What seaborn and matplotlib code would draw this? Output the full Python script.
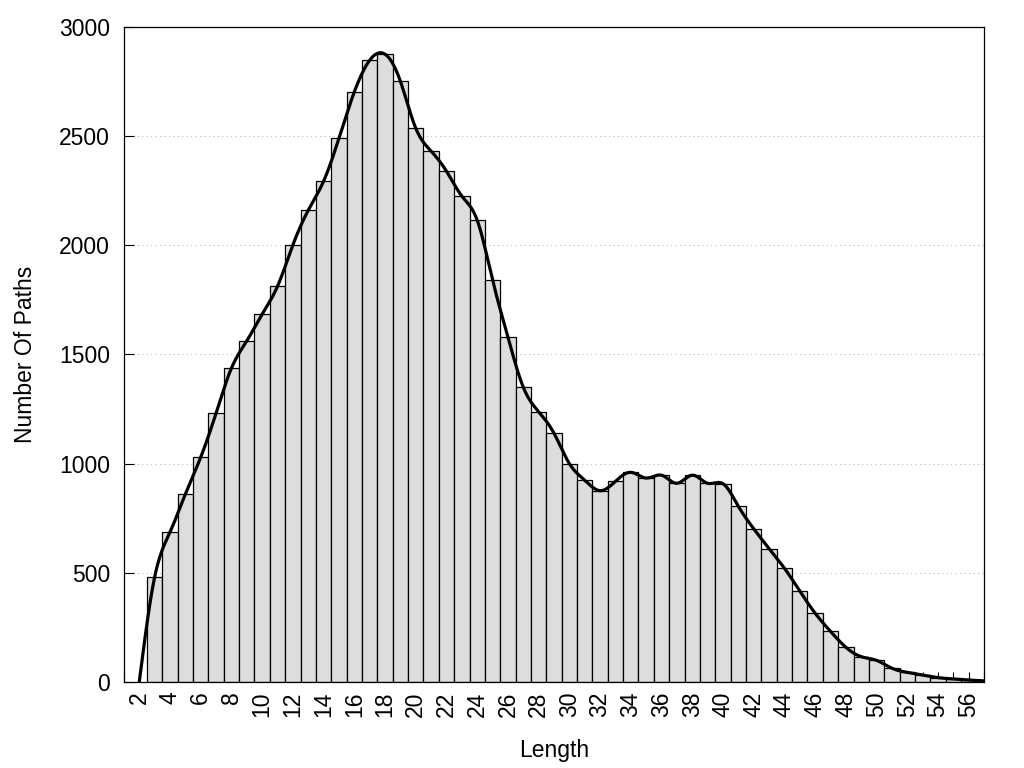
import matplotlib
matplotlib.use('Agg')
import matplotlib.pyplot as plt
import numpy as np
import seaborn as sns
from matplotlib.ticker import MultipleLocator

# Path length histogram values
lengths = list(range(3, 58))
paths = [480, 686, 860, 1029, 1231, 1437, 1562, 1684, 1812, 2001,
         2160, 2293, 2490, 2702, 2847, 2875, 2751, 2536, 2431, 2339,
         2225, 2115, 1841, 1580, 1350, 1238, 1139, 1000, 924, 876,
         919, 960, 934, 947, 910, 947, 910, 908, 805, 702,
         611, 521, 417, 315, 232, 159, 116, 99, 63, 44,
         32, 20, 14, 9, 5]

# curve is anchored at zero at length 2
curve_start_x = 2
curve_start_y = 0


def natural_spline(x, y, xs):
    """Natural cubic spline through (x, y), evaluated at xs."""
    x = np.asarray(x, dtype=float)
    y = np.asarray(y, dtype=float)
    n = len(x)
    h = np.diff(x)
    A = np.zeros((n, n))
    rhs = np.zeros(n)
    A[0, 0] = 1.0
    A[-1, -1] = 1.0
    for i in range(1, n - 1):
        A[i, i - 1] = h[i - 1]
        A[i, i] = 2 * (h[i - 1] + h[i])
        A[i, i + 1] = h[i]
        rhs[i] = 3 * ((y[i + 1] - y[i]) / h[i] - (y[i] - y[i - 1]) / h[i - 1])
    c = np.linalg.solve(A, rhs)
    b = (y[1:] - y[:-1]) / h - h * (2 * c[:-1] + c[1:]) / 3
    d = (c[1:] - c[:-1]) / (3 * h)
    idx = np.clip(np.searchsorted(x, xs) - 1, 0, n - 2)
    dx = xs - x[idx]
    return y[idx] + b[idx] * dx + c[idx] * dx ** 2 + d[idx] * dx ** 3


sns.set_theme(style='white')
plt.rcParams['font.family'] = ['Liberation Sans', 'DejaVu Sans']
plt.rcParams['text.color'] = 'black'
plt.rcParams['axes.labelcolor'] = 'black'
plt.rcParams['xtick.color'] = 'black'
plt.rcParams['ytick.color'] = 'black'

fig = plt.figure(figsize=(10.24, 7.68), dpi=100)
ax = fig.add_axes([0.121, 0.112, 0.840, 0.853])

sns.histplot(
    x=lengths,
    weights=paths,
    discrete=True,
    color='#dddddd',
    edgecolor='black',
    linewidth=0.9,
    alpha=1,
    ax=ax
)

cx = [curve_start_x] + lengths
cy = [curve_start_y] + paths
xs = np.linspace(cx[0], cx[-1], 1200)
ys = natural_spline(cx, cy, xs)
sns.lineplot(x=xs, y=ys, color='black', linewidth=2.3, sort=False,
             ax=ax, zorder=3)

ax.set_xlim(1, 57)
ax.set_ylim(0, 3000)
ax.xaxis.set_major_locator(MultipleLocator(2))
ax.xaxis.set_minor_locator(MultipleLocator(1))
ax.yaxis.set_major_locator(MultipleLocator(500))
ax.set_axisbelow(True)
ax.yaxis.grid(True, linestyle=(0, (1, 3)), color='#bbbbbb', linewidth=0.8)
ax.xaxis.grid(False)

ax.tick_params(axis='x', which='both', direction='in', length=7.5,
               width=0.8, color='black', labelcolor='black', labelsize=16.5,
               pad=7, labelrotation=90, bottom=True, top=False)
ax.tick_params(axis='x', which='minor', labelbottom=False)
ax.tick_params(axis='y', direction='in', length=7.5, width=0.8,
               color='black', labelcolor='black', labelsize=16.5, pad=10,
               left=True, right=False)

for spine in ax.spines.values():
    spine.set_visible(True)
    spine.set_color('black')
    spine.set_linewidth(0.9)

ax.set_xlabel('Length', fontsize=16.5, labelpad=16, color='black')
ax.set_ylabel('Number Of Paths', fontsize=16.5, labelpad=16, color='black')

fig.savefig('out.png', dpi=100)
